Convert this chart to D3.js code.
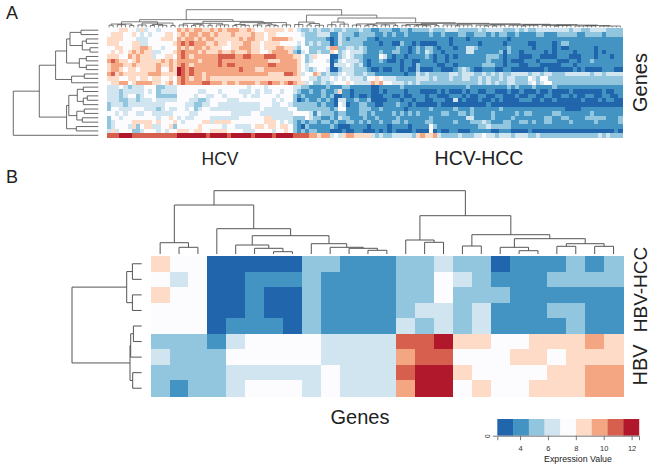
<!DOCTYPE html>
<html><head><meta charset="utf-8">
<script src="https://cdn.jsdelivr.net/npm/d3@7"></script>
<style>html,body{margin:0;padding:0;background:#fff}svg{display:block}text{font-family:"Liberation Sans",Arial,sans-serif;fill:#222}</style>
</head><body><svg id="c" width="655" height="470"></svg>
<script>
// Binned expression levels: 1 (lowest) to 9 (highest)
const matrixA = [
"55566 55464 55455 55767 67766 76767 77667 65566 66656 54334 34334 33433 34332 23332 23323 33343 33444 33333 43444 43334 34334 44444 44344 33444 43333",
"56665 56545 45556 65676 77677 67666 76666 76656 65555 55433 34442 24333 23333 22323 22322 22232 23222 33223 33232 33223 22223 32223 33332 23333 23333",
"66665 55444 55566 65767 76767 76666 66767 76656 77776 55533 33321 24323 33322 12222 22222 22222 22212 22122 22222 22122 22222 22222 22222 22222 22222",
"66655 56644 55555 56787 87776 67665 66677 66566 66555 54534 34331 24333 33222 21221 13221 21111 22212 22222 12222 21222 22112 22212 33222 22222 22222",
"55665 56677 65545 55767 67767 66655 66777 66566 67766 43553 33347 73344 34322 22222 32212 32332 12221 22443 22222 22322 22212 22212 11222 22212 22222",
"56565 67676 64455 56787 77676 66766 76667 66556 77776 32453 34336 53454 44322 23223 32212 32432 21222 22442 22222 31322 12222 21212 22212 22212 12222",
"66655 76766 64556 65787 67777 77888 87788 77788 87777 66534 65551 13454 33222 25421 22122 22321 22121 22222 22333 21222 11122 11112 22111 22212 22122",
"78766 56766 66676 76777 77677 77877 77777 77776 66777 76534 55541 24544 43212 23211 21221 12221 22122 22222 22322 21211 12221 22221 11221 22322 22222",
"67776 67666 66766 76787 67777 77878 87777 77778 87777 76545 55551 44454 34212 22222 21221 32222 11221 22222 23332 21222 11222 11111 22212 22222 22222",
"67765 66566 66755 76987 87777 77777 77877 76677 77777 76543 45541 13444 33321 12112 21211 31112 21112 34321 12221 12211 11111 12111 11121 21111 22211",
"78676 66666 77766 66987 87767 77777 77777 77776 66688 76455 76343 34544 33433 22222 22122 43433 33344 34443 34343 43344 44344 34433 34444 44344 34444",
"66655 66566 56655 65787 67767 66666 66666 66666 66666 66554 43445 45454 44355 65444 33333 44434 33343 34433 43433 43443 33543 55333 33333 33333 33333",
"56677 56777 76656 75787 77788 77767 76777 76778 77678 76645 33434 55565 44447 67554 44343 43333 33333 33333 43434 33443 33453 45533 33333 33333 33333",
"44454 34445 55334 44555 55555 55555 55554 55545 55555 44332 22232 22332 22221 12222 23222 22222 22222 22322 22222 22323 22232 22232 22222 22222 22222",
"44434 44445 45344 44555 55445 55455 55444 54544 55455 43223 22322 36221 22221 12122 22122 21111 21211 12122 11221 11211 21112 11211 11211 11111 21122",
"44434 55345 55333 33555 54554 45545 55545 44555 54555 32322 22323 11221 21121 11221 12112 22122 11122 21211 22112 21112 11221 12211 22121 12211 22112",
"44433 44344 45444 44555 44334 55554 44555 55555 45455 31232 23232 14422 32231 11122 21221 22112 22114 12111 21121 21111 22211 21121 11111 21112 12211",
"34443 44444 44445 55554 43344 55444 44444 44555 44554 33333 32322 15412 23322 11222 32212 11111 21111 11111 11211 11111 11111 11111 11111 11111 11111",
"35544 45554 44345 44554 53455 44444 44444 44544 44445 53333 33332 35522 23332 23222 22122 22232 22223 22232 22222 32222 22222 22222 21111 22222 22222",
"55454 55445 54444 45555 44555 55555 44444 55444 44444 55554 24333 23322 23323 22223 23232 32222 23322 33232 22232 22223 23322 22233 22222 22322 22222",
"35545 55555 55455 65454 45555 44444 44555 55566 44444 33354 33223 24332 22322 32222 32222 22232 22222 22442 22232 22232 22222 23322 33222 23333 32223",
"34555 56666 65655 56545 55566 46666 55555 55566 65454 32323 32332 32233 23232 23223 32322 22332 22223 22233 34322 23322 33232 23322 22322 22232 22223",
"34555 46356 64455 63555 55655 55545 54444 56656 65665 32132 22223 21112 22212 22212 22212 22253 22222 22222 33433 33322 22222 22222 22222 22222 22222",
"46455 53345 55454 55666 56655 66665 55544 45555 45565 32323 32221 11211 22111 21212 11112 11151 21122 11122 22211 22211 11211 11111 11111 11111 11121",
"88899 98888 88888 88999 99998 99998 99999 89999 89999 88887 76774 54677 66664 34334 44443 67667 43333 43334 45443 44434 44334 33333 33333 33334 34333"
];
const matrixB = [
[6,5,5,1,1,1,1,1,3,3,2,2,2,3,3,4,3,3,1,2,2,2,3,2,3],
[5,4,5,1,1,2,2,2,3,2,2,2,2,3,3,5,4,3,2,2,2,3,3,3,3],
[6,5,5,1,1,2,1,1,3,2,2,2,2,3,3,5,3,3,3,2,2,2,2,2,2],
[5,5,5,1,1,2,1,1,3,2,2,2,2,3,4,4,3,4,2,2,2,3,3,2,2],
[5,5,5,1,2,2,2,1,3,2,2,2,2,4,3,4,3,4,2,2,2,2,3,2,2],
[3,3,3,2,4,5,5,5,5,4,4,4,4,8,8,9,6,6,5,5,6,6,6,7,6],
[4,3,3,3,5,5,5,5,5,4,4,4,4,7,8,8,5,5,5,6,6,5,6,6,6],
[3,3,3,3,4,4,4,4,4,5,4,4,4,8,9,9,6,5,5,5,5,6,6,7,7],
[3,2,3,3,4,5,5,5,4,5,4,4,4,7,9,9,5,6,5,5,6,6,6,7,7]
];
// Dendrograms: [mergeHeight, child, child, ...]; 0 is a leaf
const colTreeA = [18.3,
 [8,
  [5.8,
   [3.5,[2.2,0,0],[2.8,0,0,0],[2,0,0]],
   [4.5,[2.5,0,0,0],[3,[2,0,0],[2.2,0,0,0]],[2,0,0]]],
  [6.2,
   [4.2,[2.5,0,0,0],[3.2,[2,0,0],[2.4,0,0]],[2.2,0,0],[2.6,0,0,0,0]],
   [5,[3,[2,0,0],[2.2,0,0,0]],[3.8,[2.4,0,0,0],[2.6,[1.8,0,0],[1.8,0,0]]],[2.6,0,0,0]]]],
 [12.7,
  [5.5,[3,0,0,0],[4,[2.5,0,0],[2.2,0,0,0]]],
  [9.7,
   [5.5,[2.8,0,0,0],[3.4,0,0,0]],
   [4.8,
    [3.6,[2.4,0,0,0],[2.8,[1.8,0,0],[2,0,0]],[2.5,0,0,0],[2,0,0]],
    [4.2,
     [3,[2.2,0,0,0],[2.4,[1.6,0,0],[1.7,0,0,0]],[1.8,0,0]],
     [3.6,
      [2.6,0,0,0,[1.6,0,0],0,0,0],
      [3.2,
       [2.4,0,0,[1.5,0,0],[1.5,0,0],0,0],
       [2.8,
        [2.2,0,0,0,[1.4,0,0],0,0,0],
        [2.4,
         [1.9,0,0,0,[1.3,0,0],0,0,0],
         [1.9,[1.5,0,0,0,0,0,0],[1.4,0,0,0,0,0,0]]]]]]]]]]];
const rowTreeA = [85,
 [59,
  [42.7,
   [31.7,
    [28.3,[17.3,0,0],[16,[12,0,0],[8.3,0,0]]],
    [19,[12,0,0],[12,0,0]]],
   [26.7,[14,0,0],0]],
  [31.7,
   [29.5,[21,[15,0,0],[15,[11,0,0],0]],[21.5,[14,0,0],[16,0,0]]],
   [22,0,0]]],
 0];
const colTreeB = [63.3,
 [49,
  [11.3,0,[6.7,0,0]],
  [25.3,0,
   [18.3,
    [9,0,[5.7,0,[2.3,0,0]]],
    [10.3,0,[6.7,0,[5.7,0,[3.7,0,0]]]]]]],
 [38.3,
  [14,0,[11.7,0,0]],
  [19.3,
   [8,0,0],
   [15.3,
    [6.7,0,[3.3,0,0]],
    [10.3,[7.7,0,0],[7.7,0,0]]]]]];
const rowTreeB = [69.7,
 [15,[9.3,0,0],[9.3,0,0]],
 [11.7,[11,[8.3,0,0],0],[9,0,0]]];
const palette = ["#2166ac","#4393c3","#92c5de","#d1e5f0","#fcfcfe","#fddbc7","#f4a582","#d6604d","#b2182b"];
const legendDomain = [2.37,12.53];
const legendTicks = [4,6,8,10,12];

const svg = d3.select("#c");
const color = d3.scaleOrdinal(d3.range(1,10), palette);
const rowsA = matrixA.map(s => Array.from(s.replace(/ /g,""), Number));

function heatmap(g, rows, x0, x1, y0, y1){
  const x = d3.scaleBand(d3.range(rows[0].length), [x0,x1]);
  const y = d3.scaleBand(d3.range(rows.length), [y0,y1]);
  g.attr("shape-rendering","crispEdges");
  g.selectAll("g").data(rows).join("g").attr("transform",(d,i)=>`translate(0,${y(i)})`)
   .selectAll("rect").data(d=>d).join("rect")
   .attr("x",(d,i)=>x(i)).attr("width",x.bandwidth()+0.5)
   .attr("height",y.bandwidth()+0.5).attr("fill",d=>color(d));
  return {x,y};
}
function dendro(g, tree, band, hScale, horizontal, stroke, sw){
  const root = d3.hierarchy(tree, d => Array.isArray(d) ? d.slice(1) : null);
  let leaf = 0;
  root.eachAfter(n => {
    n.h = n.children ? n.data[0] : 0;
    n.p = n.children ? (n.children[0].p + n.children[n.children.length-1].p)/2
                     : band(leaf++) + band.bandwidth()/2;
  });
  const pt = (p,h) => horizontal ? [hScale(h),p] : [p,hScale(h)];
  const line = d3.line();
  const segs = [];
  root.each(n => { if(!n.children) return;
    const c = n.children;
    segs.push([pt(c[0].p,n.h), pt(c[c.length-1].p,n.h)]);
    c.forEach(k => segs.push([pt(k.p,n.h), pt(k.p,k.h)]));
  });
  g.append("path").attr("fill","none").attr("stroke",stroke).attr("stroke-width",sw)
   .attr("d", segs.map(s=>line(s)).join(""));
}
// Panel A
const gA = svg.append("g");
const a = heatmap(gA.append("g").style("filter","blur(0.5px)"), rowsA, 107, 622.5, 28, 137.5);
dendro(gA, colTreeA, a.x, d3.scaleLinear([0,18.3],[27.4,9.7]), false, "#444", 0.7);
dendro(gA, rowTreeA, a.y, d3.scaleLinear([0,85],[98.3,13.3]), true, "#444", 0.8);
// Panel B
const gB = svg.append("g");
const b = heatmap(gB.append("g").style("filter","blur(0.4px)"), matrixB, 150.7, 623, 256, 396);
dendro(gB, colTreeB, b.x, d3.scaleLinear([0,63.3],[254,190.7]), false, "#555", 1);
dendro(gB, rowTreeB, b.y, d3.scaleLinear([0,69.7],[141.7,72]), true, "#555", 1);
// Text
function label(t,x,y,size,rot,anchor){
  svg.append("text").text(t).attr("font-size",size)
   .attr("text-anchor",anchor||"middle")
   .attr("transform",`translate(${x},${y})`+(rot?` rotate(${rot})`:""));
}
label("A",6,19,18,0,"start");
label("B",6,183,18,0,"start");
label("HCV",220,165,17.5);
label("HCV-HCC",479,165,19.5);
label("Genes",647,82.5,20,-90);
label("HBV-HCC",647,289.5,19,-90);
label("HBV",647,365,20,-90);
label("Genes",360,424,20);
// Legend
const lx = d3.scaleLinear(legendDomain,[497.3,639]);
const bins = d3.range(9);
const bw = (legendDomain[1]-legendDomain[0])/9;
const lg = svg.append("g");
lg.selectAll("rect").data(bins).join("rect")
  .attr("x",i=>lx(legendDomain[0]+i*bw)).attr("y",419)
  .attr("width",lx(legendDomain[0]+bw)-lx(legendDomain[0])+0.2).attr("height",16.7)
  .attr("fill",i=>palette[i]);
const ax = lg.append("g").attr("transform","translate(0,435.7)")
  .call(d3.axisBottom(lx).tickValues(legendTicks).tickSize(4.5).tickPadding(5));
ax.selectAll("text").attr("font-size",7.5).attr("font-family",'"Liberation Sans",sans-serif').style("fill","#333");
ax.selectAll("line,path").attr("stroke","#777");
const ay = lg.append("g").attr("transform","translate(497.3,0)")
  .call(d3.axisLeft(d3.scaleLinear([0,1],[435.7,419])).tickValues([0]).tickFormat(d3.format("d")).tickSize(4.5).tickPadding(5));
ay.selectAll("text").attr("font-size",7).attr("font-family",'"Liberation Sans",sans-serif')
  .attr("transform","rotate(-90,-9.5,0)").attr("text-anchor","middle").attr("dy","0.32em").attr("x",-9.5).style("fill","#333");
ay.selectAll("line,path").attr("stroke","#777");
ay.select("path").attr("stroke","none");
label("Expression Value",578,462,8.8);
</script></body></html>
